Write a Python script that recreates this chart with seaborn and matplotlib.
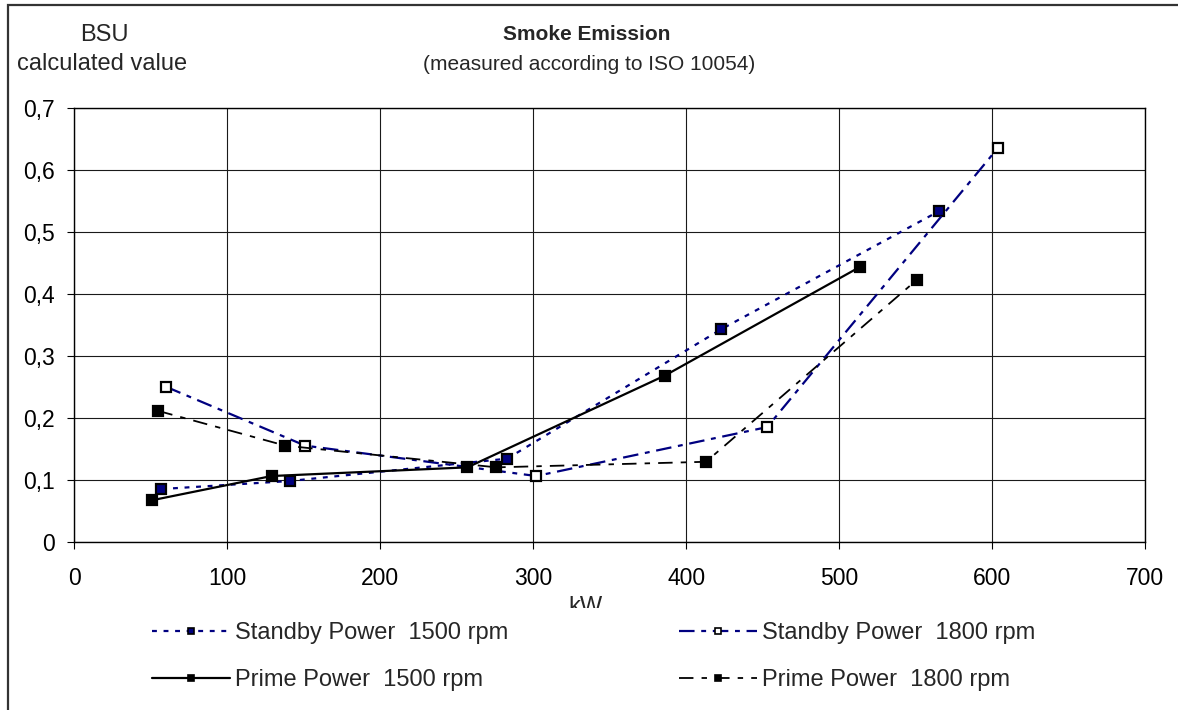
"""Smoke emission (BSU) versus power for the standby and prime ratings."""

import matplotlib

matplotlib.use("Agg")

import matplotlib.pyplot as plt
import seaborn as sns
from matplotlib.lines import Line2D
from matplotlib.patches import Rectangle
from matplotlib.ticker import FuncFormatter


# values
standby_1500_kw = [57, 141, 283, 423, 565]
standby_1500_bsu = [0.085, 0.098, 0.134, 0.343, 0.533]
standby_1800_kw = [60, 151, 302, 453, 604]
standby_1800_bsu = [0.250, 0.155, 0.106, 0.185, 0.636]
prime_1500_kw = [51, 129, 257, 386, 514]
prime_1500_bsu = [0.067, 0.106, 0.120, 0.268, 0.444]
prime_1800_kw = [55, 138, 276, 413, 551]
prime_1800_bsu = [0.211, 0.155, 0.120, 0.129, 0.423]

series_labels = [
    "Standby Power  1500 rpm",
    "Standby Power  1800 rpm",
    "Prime Power  1500 rpm",
    "Prime Power  1800 rpm",
]
x_ticks = [0, 100, 200, 300, 400, 500, 600, 700]
y_ticks = [0, 0.1, 0.2, 0.3, 0.4, 0.5, 0.6, 0.7]

NAVY = "#000080"
TICK_FS = 16.5
LEGEND_FS = 17
AXTITLE_FS = 17
TITLE_FS = 15

sns.set_theme(style="white")
plt.rcParams["font.family"] = ["Liberation Sans", "DejaVu Sans"]

W, H = 1178, 710
fig = plt.figure(figsize=(W / 100, H / 100), dpi=100)
ax = fig.add_axes([74.3 / W, 1 - 541.7 / H, (1145 - 74.3) / W, (541.7 - 108) / H])

styles = [
    dict(color=NAVY, linestyle=(0, (2.2, 3.0)), linewidth=1.6, markerfacecolor=NAVY, markeredgecolor="black"),
    dict(color=NAVY, linestyle=(0, (7, 3, 2.2, 3)), linewidth=1.6, markerfacecolor="white", markeredgecolor="black"),
    dict(color="black", linestyle="-", linewidth=1.6, markerfacecolor="black", markeredgecolor="black"),
    dict(color="black", linestyle=(0, (8, 4.5, 3, 4.5)), linewidth=1.3, markerfacecolor="black", markeredgecolor="black"),
]
data = [
    (standby_1500_kw, standby_1500_bsu),
    (standby_1800_kw, standby_1800_bsu),
    (prime_1500_kw, prime_1500_bsu),
    (prime_1800_kw, prime_1800_bsu),
]

for (kw, bsu), style in zip(data, styles):
    sns.lineplot(
        x=kw,
        y=bsu,
        sort=False,
        marker="s",
        markersize=7.5,
        markeredgewidth=1.6,
        legend=False,
        ax=ax,
        **style,
    )

ax.set_xlim(0, 700)
ax.set_ylim(0, 0.7)
ax.set_xticks(x_ticks)
ax.set_yticks(y_ticks)
ax.xaxis.set_major_formatter(FuncFormatter(lambda v, _: f"{v:.0f}"))
ax.yaxis.set_major_formatter(FuncFormatter(lambda v, _: "0" if abs(v) < 1e-9 else f"{v:.1f}".replace(".", ",")))
ax.tick_params(axis="both", direction="out", length=5, width=0.8, color="black", labelsize=TICK_FS, labelcolor="black")
ax.tick_params(axis="y", pad=9, left=True)
ax.tick_params(axis="x", pad=13.5, bottom=True)
ax.grid(True, color="#1a1a1a", linewidth=0.8)
for spine in ax.spines.values():
    spine.set_color("black")
    spine.set_linewidth(1.0)
ax.set_xlabel("")
ax.set_ylabel("")

# header texts
fig.text(104 / W, 1 - 35 / H, "BSU", ha="center", va="center", fontsize=AXTITLE_FS)
fig.text(102 / W, 1 - 64 / H, "calculated value", ha="center", va="center", fontsize=AXTITLE_FS)
fig.text(587 / W, 1 - 35 / H, "Smoke Emission", ha="center", va="center", fontsize=TITLE_FS, weight="bold")
fig.text(589 / W, 1 - 64 / H, "(measured according to ISO 10054)", ha="center", va="center", fontsize=TITLE_FS)
fig.text(585 / W, 1 - 607 / H, "kW", ha="center", va="center", fontsize=LEGEND_FS)

# the legend area is one white box that hides the lower half of the axis title
fig.patches.append(Rectangle((137 / W, 1 - 708 / H), (1060 - 137) / W, (708 - 608) / H,
                             transform=fig.transFigure, facecolor="white", edgecolor="none", zorder=4))

handles = [
    Line2D([0], [0], marker="s", markersize=5, markeredgewidth=1.2, **style)
    for style in styles
]
legend_kw = dict(
    loc="upper left",
    ncol=1,
    frameon=False,
    fontsize=LEGEND_FS,
    handlelength=3.3,
    handletextpad=0.2,
    labelspacing=1.05,
    borderpad=0.64,
    borderaxespad=0,
    numpoints=1,
)
leg1 = fig.legend([handles[0], handles[2]], [series_labels[0], series_labels[2]],
                  bbox_to_anchor=(137 / W, 1 - 607 / H), **legend_kw)
leg2 = fig.legend([handles[1], handles[3]], [series_labels[1], series_labels[3]],
                  bbox_to_anchor=(664 / W, 1 - 607 / H), **legend_kw)
leg1.set_zorder(6)
leg2.set_zorder(6)

# outer chart frame, only the top and left edges fall inside the picture
fig.patches.append(Rectangle((8 / W, -0.1), 1.2, 1.1 - 5 / H, transform=fig.transFigure,
                             fill=False, edgecolor="#333333", linewidth=1.6))

fig.savefig("out.png", dpi=100)
plt.close(fig)
